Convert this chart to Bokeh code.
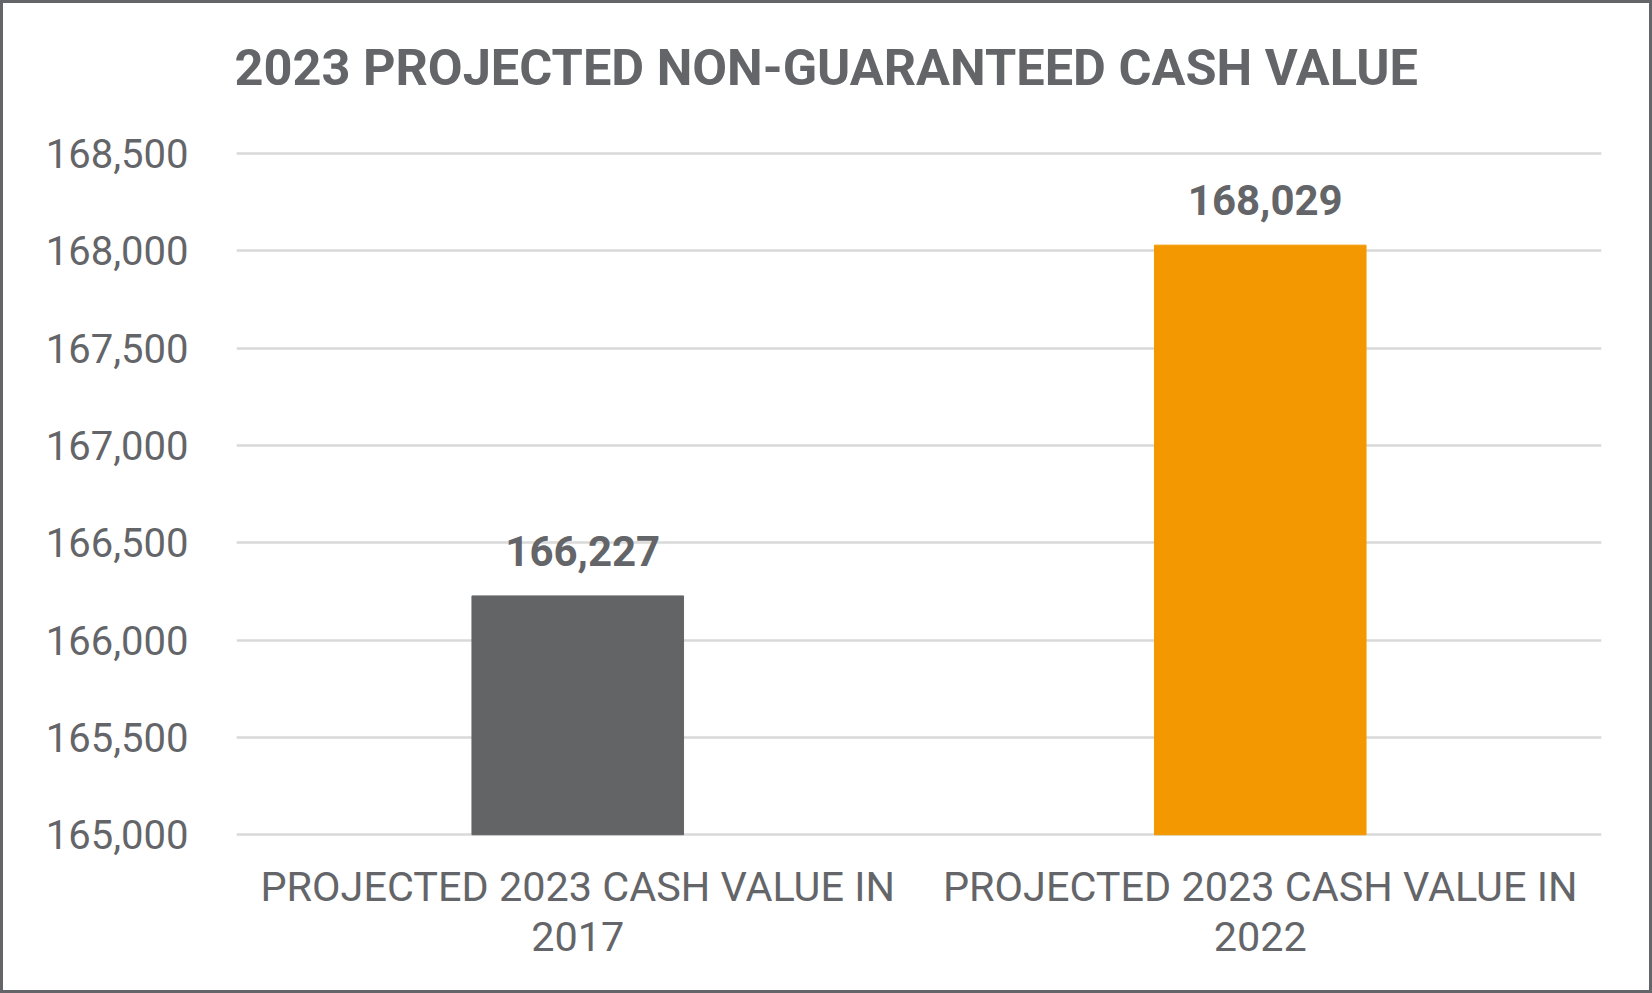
from bokeh.plotting import figure
from bokeh.models import (Range1d, FactorRange, NumeralTickFormatter, FixedTicker, CategoricalAxis,
                          ColumnDataSource, CustomJSTickFormatter)
from bokeh.core.properties import value
from bokeh.embed import file_html
from bokeh.resources import INLINE

title_text = "2023 PROJECTED NON-GUARANTEED CASH VALUE"
categories = ["PROJECTED 2023 CASH VALUE IN 2017", "PROJECTED 2023 CASH VALUE IN 2022"]
label_line1 = ["PROJECTED 2023 CASH VALUE IN", "PROJECTED 2023 CASH VALUE IN"]
label_line2 = ["2017", "2022"]
values = [166227, 168029]
value_labels = ["166,227", "168,029"]
bar_colors = ["#636466", "#F39800"]
y_ticks = [165000, 165500, 166000, 166500, 167000, 167500, 168000, 168500]

TEXT = "#646569"
FONT = "Roboto"

src = ColumnDataSource(dict(cat=categories, val=values, lab=value_labels, color=bar_colors))

p = figure(
    width=1646, height=987,
    x_range=FactorRange(*categories, range_padding=0),
    y_range=Range1d(164991, 168654),
    output_backend="svg", toolbar_location=None,
    x_axis_location=None,
    min_border_left=233, min_border_right=54, min_border_top=120, min_border_bottom=160,
)
p.title.text = title_text
p.title.align = "left"
p.title.offset = -2
p.title.standoff = 53
p.title.text_font = FONT
p.title.text_font_style = "bold"
p.title.text_font_size = "50.5px"
p.title.text_color = TEXT

p.outline_line_color = None
p.background_fill_color = "white"
p.border_fill_color = "white"
p.styles = {"border": "3px solid #646569", "box-sizing": "content-box"}

p.vbar(x="cat", top="val", bottom=165000, width=0.31, color="color", source=src)
p.text(x="cat", y="val", text="lab", source=src, text_align="center", text_baseline="alphabetic",
       x_offset=5, y_offset=-45, text_font=value(FONT), text_font_style="bold",
       text_font_size="42px", text_color=TEXT)

# y axis
p.yaxis.ticker = FixedTicker(ticks=y_ticks)
p.yaxis.formatter = NumeralTickFormatter(format="0,0")
p.yaxis.axis_line_color = None
p.yaxis.major_tick_line_color = None
p.yaxis.minor_tick_line_color = None
p.yaxis.major_tick_out = 0
p.yaxis.major_tick_in = 0
p.yaxis.major_label_standoff = 48
p.yaxis.major_label_text_font = FONT
p.yaxis.major_label_text_font_size = "40px"
p.yaxis.major_label_text_color = TEXT

# two stacked category axes for the two-line labels
def make_axis(labels, standoff):
    ax = CategoricalAxis()
    ax.axis_line_color = None
    ax.major_tick_line_color = None
    ax.minor_tick_line_color = None
    ax.major_tick_out = 0
    ax.major_tick_in = 0
    ax.major_label_standoff = standoff
    ax.major_label_text_font = FONT
    ax.major_label_text_font_size = "41.4px"
    ax.major_label_text_color = TEXT
    ax.formatter = CustomJSTickFormatter(args=dict(cats=categories, labels=labels),
                                         code="return labels[cats.indexOf(tick)];")
    return ax

p.add_layout(make_axis(label_line1, 26), "below")
p.add_layout(make_axis(label_line2, 8), "below")

p.xgrid.grid_line_color = None
p.ygrid.grid_line_color = "#D9D9D9"
p.ygrid.grid_line_width = 2.5
p.ygrid.ticker = FixedTicker(ticks=y_ticks)

open("out.html", "w").write(file_html(p, INLINE))
